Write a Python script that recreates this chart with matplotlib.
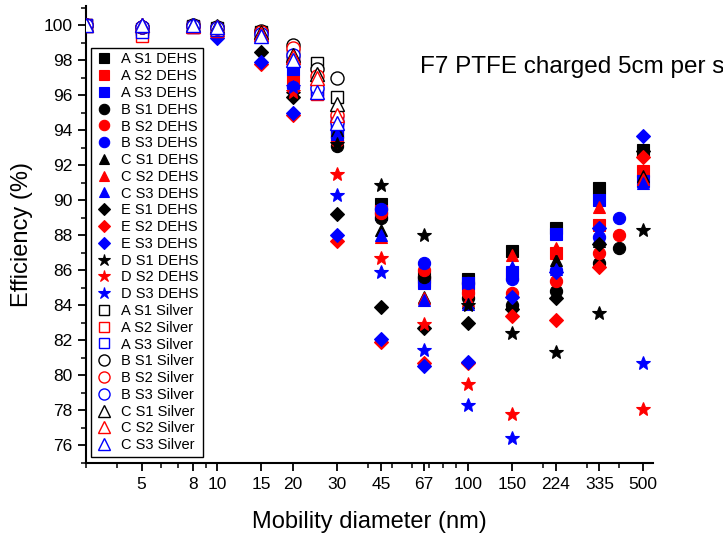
import numpy as np
import matplotlib
matplotlib.use("Agg")
from matplotlib import pyplot as plt
from matplotlib.ticker import FixedLocator, LogLocator, NullFormatter, MultipleLocator

plt.rcParams['font.family'] = ['Liberation Sans', 'DejaVu Sans']

nan = np.nan

# mobility diameters (nm)
x_silver = [3, 5, 8, 10, 15, 20, 25, 30]
x_dehs = [20, 30, 45, 67, 100, 150, 224, 335, 500]
x_dehs_b = [20, 30, 45, 67, 100, 150, 224, 335, 400]
x_dehs_e = [10, 15, 20, 30, 45, 67, 100, 150, 224, 335, 500]

# DEHS efficiencies (%)
a_s1_dehs = [98.3, 93.8, 89.8, 85.6, 85.5, 87.1, 88.4, 90.7, 92.9]
a_s2_dehs = [96.8, 93.9, 89.4, 85.4, 85.1, 85.8, 87.0, 88.6, 91.7]
a_s3_dehs = [97.5, 94.1, 89.2, 85.3, 85.3, 85.9, 88.1, 90.0, 91.1]
b_s1_dehs = [98.0, 93.1, 89.0, 85.6, 84.4, 84.0, 84.8, 86.4, 87.3]
b_s2_dehs = [98.0, 93.4, 89.3, 86.0, 84.7, 84.7, 85.4, 87.0, 88.05]
b_s3_dehs = [96.5, 93.6, 89.5, 86.4, 85.3, 85.5, 86.0, 87.9, 89.0]
c_s1_dehs = [98.2, 94.0, 88.3, 84.5, 84.2, 84.2, 86.6, 87.7, 91.4]
c_s2_dehs = [98.1, 93.7, 87.9, 84.4, 84.3, 86.9, 87.3, 89.6, 91.2]
c_s3_dehs = [98.0, 93.8, 88.0, 84.3, 84.1, 86.2, 86.1, 87.9, 91.0]
e_s1_dehs = [99.5, 98.5, 95.9, 89.2, 83.9, 82.7, 83.0, 83.8, 84.4, 87.5, 92.8]
e_s2_dehs = [99.4, 97.8, 94.9, 87.7, 81.9, 80.7, 80.7, 83.4, 83.15, 86.2, 92.5]
e_s3_dehs = [99.3, 97.9, 95.0, 88.0, 82.1, 80.55, 80.75, 84.5, 85.9, 88.4, 93.7]
d_s1_dehs = [96.1, 93.2, 90.9, 88.0, 84.0, 82.4, 81.35, 83.55, 88.3]
d_s2_dehs = [96.2, 91.5, 86.7, 82.95, 79.5, 77.8, nan, nan, 78.1]
d_s3_dehs = [96.5, 90.3, 85.9, 81.45, 78.3, 76.45, nan, nan, 80.7]

# Silver efficiencies (%)
a_s1_silver = [100, 99.8, 99.95, 99.85, 99.6, 98.5, 97.85, 95.9]
a_s2_silver = [100, 99.4, 99.9, 99.7, 99.5, 98.3, 96.1, 94.6]
a_s3_silver = [100, 99.6, 99.9, 99.75, 99.5, 98.1, 96.3, 94.5]
b_s1_silver = [100, 99.9, 100, 99.9, 99.7, 98.9, 97.5, 97.0]
b_s2_silver = [100, 99.9, 99.95, 99.85, 99.6, 98.7, 97.1, 94.9]
b_s3_silver = [100, 99.9, 99.95, 99.85, 99.5, 98.3, 96.4, 94.5]
c_s1_silver = [100, 100, 100, 99.95, 99.6, 98.3, 97.2, 95.5]
c_s2_silver = [100, 100, 99.95, 99.9, 99.5, 98.2, 97.0, 94.9]
c_s3_silver = [100, 100, 100, 99.9, 99.4, 98.0, 96.2, 94.4]

xticks = [5, 8, 10, 15, 20, 30, 45, 67, 100, 150, 224, 335, 500]

colors = ['black', 'red', 'blue']
msize = {'s': 8, 'o': 8.8, '^': 9.2, 'D': 6.8, '*': 10.5}

fig = plt.figure(figsize=(7.23, 5.35), dpi=100)
ax = fig.add_axes([86/723, 1-463/535, 567/723, 457/535])

dehs = [
    ('A', 's', x_dehs, [a_s1_dehs, a_s2_dehs, a_s3_dehs]),
    ('B', 'o', x_dehs_b, [b_s1_dehs, b_s2_dehs, b_s3_dehs]),
    ('C', '^', x_dehs, [c_s1_dehs, c_s2_dehs, c_s3_dehs]),
    ('E', 'D', x_dehs_e, [e_s1_dehs, e_s2_dehs, e_s3_dehs]),
    ('D', '*', x_dehs, [d_s1_dehs, d_s2_dehs, d_s3_dehs]),
]
silver = [
    ('A', 's', [a_s1_silver, a_s2_silver, a_s3_silver]),
    ('B', 'o', [b_s1_silver, b_s2_silver, b_s3_silver]),
    ('C', '^', [c_s1_silver, c_s2_silver, c_s3_silver]),
]

z = 3
for name, m, xs, series in dehs:
    for i, ys in enumerate(series):
        ax.plot(xs, ys, ls='none', marker=m, ms=msize[m], color=colors[i],
                mec=colors[i], mew=0.8, label=f'{name} S{i+1} DEHS', zorder=z)
        z += 0.01
for name, m, series in silver:
    for i, ys in enumerate(series):
        ax.plot(x_silver, ys, ls='none', marker=m, ms=msize[m] + 0.6, mfc='white',
                mec=colors[i], mew=1.0, label=f'{name} S{i+1} Silver', zorder=z)
        z += 0.01

ax.set_xscale('log')
ax.set_xlim(3, 548)
ax.set_ylim(75.0, 101.1)
ax.xaxis.set_major_locator(FixedLocator(xticks))
ax.set_xticklabels([str(t) for t in xticks])
ax.xaxis.set_minor_locator(LogLocator(base=10, subs=np.arange(2, 10)))
ax.xaxis.set_minor_formatter(NullFormatter())
ax.yaxis.set_major_locator(MultipleLocator(2))
ax.yaxis.set_minor_locator(MultipleLocator(1))

for s in ['top', 'right']:
    ax.spines[s].set_visible(False)
for s in ['left', 'bottom']:
    ax.spines[s].set_linewidth(1.5)
ax.tick_params(which='major', direction='out', length=6, width=1.3, labelsize=12.5)
ax.tick_params(axis='x', which='major', pad=4)
ax.tick_params(which='minor', direction='out', length=3.5, width=1.1)

ax.set_xlabel('Mobility diameter (nm)', fontsize=17, labelpad=14)
ax.set_ylabel('Efficiency (%)', fontsize=17, labelpad=8)

leg = ax.legend(loc='upper left', bbox_to_anchor=(0.009, 0.908), borderaxespad=0,
                fontsize=10.5, labelspacing=0.19, handletextpad=0.55,
                handlelength=1.2, borderpad=0.3, markerscale=0.85,
                fancybox=False, framealpha=1, edgecolor='black')
leg.get_frame().set_linewidth(1.0)

fig.text(420/723, 1-67/535, 'F7 PTFE charged 5cm per s', fontsize=17.5,
         ha='left', va='center')

fig.savefig('out.png', dpi=100)
